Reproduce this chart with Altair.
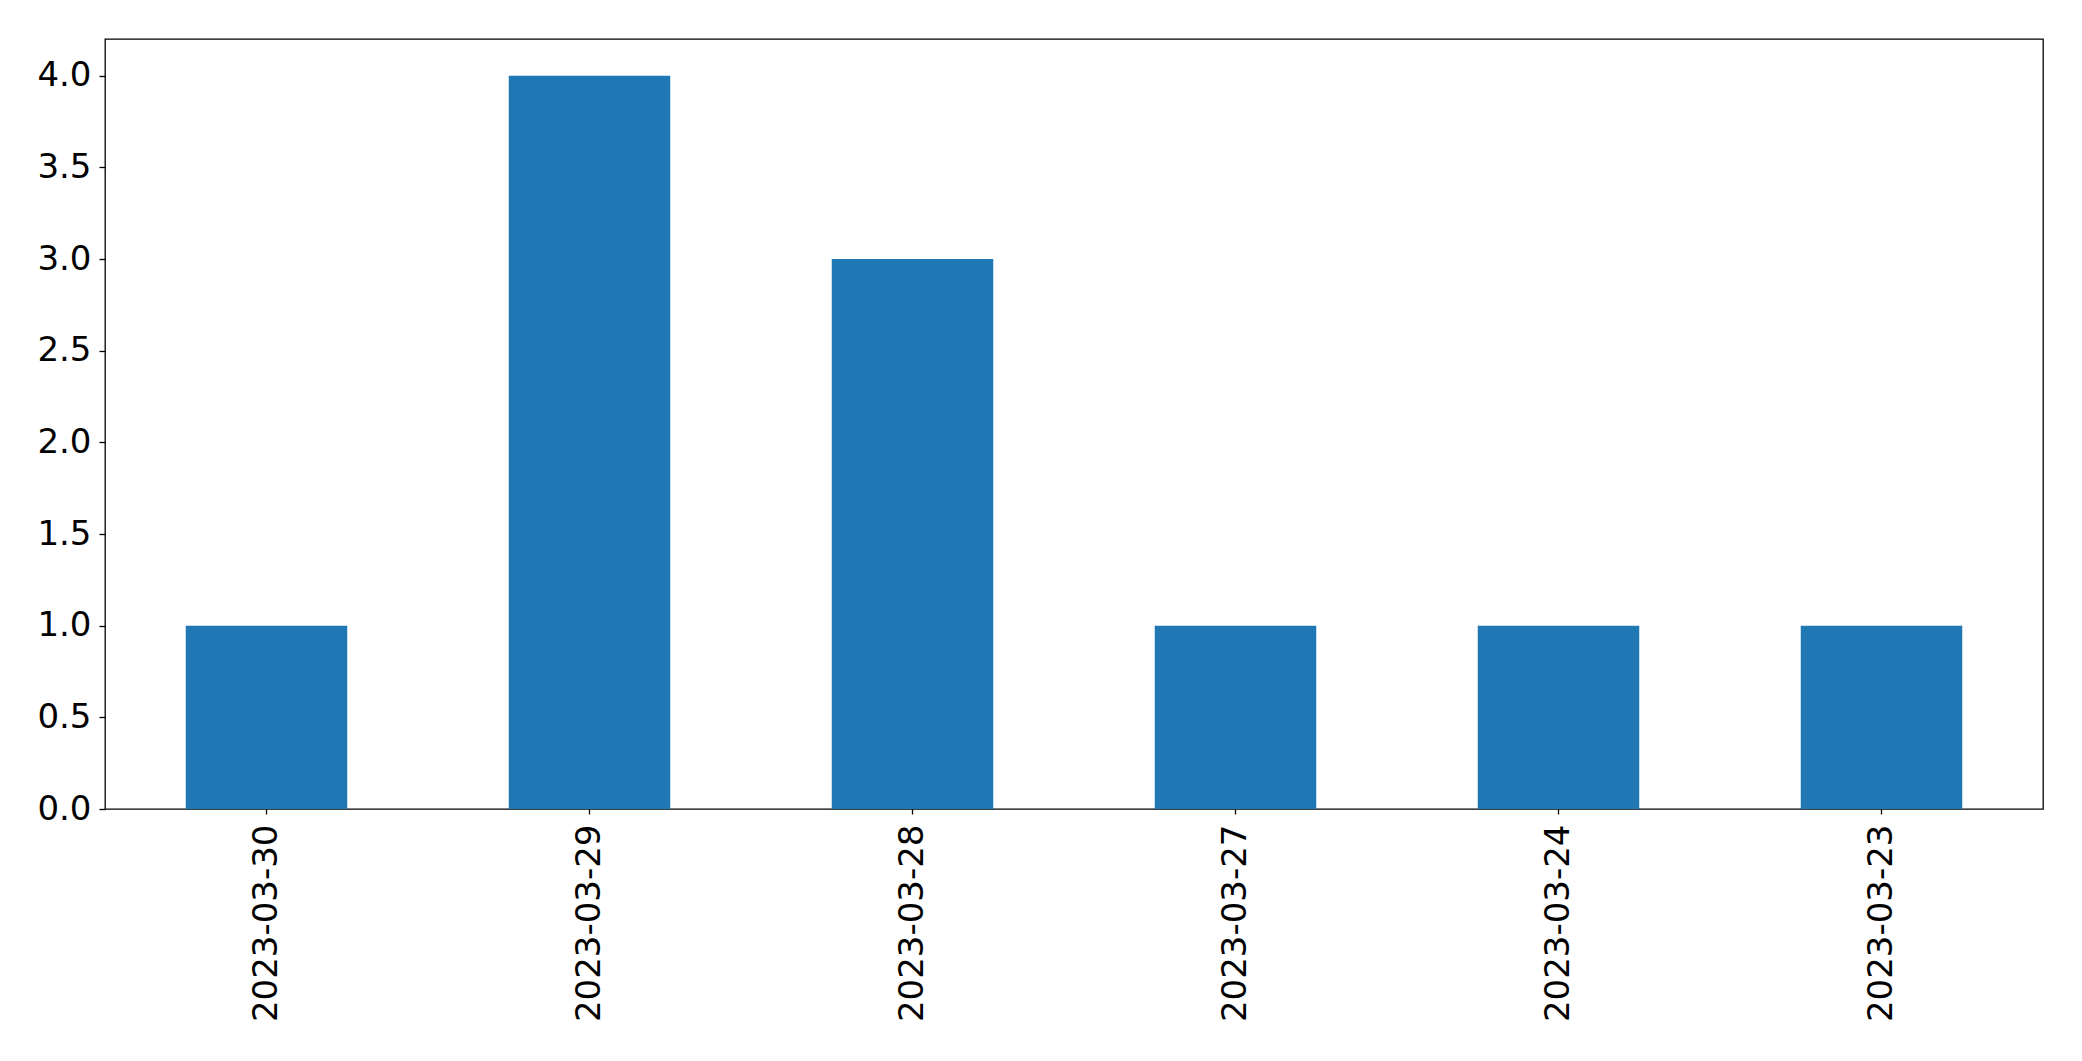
import altair as alt
import pandas as pd

dates = ["2023-03-30", "2023-03-29", "2023-03-28", "2023-03-27", "2023-03-24", "2023-03-23"]
counts = [1, 4, 3, 1, 1, 1]

df = pd.DataFrame({"date": dates, "count": counts})

chart = alt.Chart(df).mark_bar(color="#1f77b4").encode(
    x=alt.X("date:N", sort=None, title=None,
            scale=alt.Scale(paddingInner=0.5, paddingOuter=0.25),
            axis=alt.Axis(labelAngle=270, labelFontSize=34, labelFont="DejaVu Sans",
                          labelColor="black", tickColor="black", tickSize=5,
                          tickWidth=1.3, labelPadding=10, labelLimit=0, domain=False)),
    y=alt.Y("count:Q", title=None,
            scale=alt.Scale(domain=[0, 4.2], nice=False, zero=True),
            axis=alt.Axis(values=[0, 0.5, 1, 1.5, 2, 2.5, 3, 3.5, 4], format=".1f",
                          labelFontSize=34, labelFont="DejaVu Sans", labelColor="black",
                          tickColor="black", tickSize=6, tickWidth=1.3, labelPadding=8,
                          grid=False, domain=False)),
).properties(
    width=1938,
    height=770,
    autosize=alt.AutoSizeParams(type="none"),
    padding={"left": 97, "top": 31, "right": 30, "bottom": 240},
).configure_view(
    stroke="black", strokeWidth=1.3
)

chart.save("out.html", embed_options={"renderer": "svg", "actions": False})
